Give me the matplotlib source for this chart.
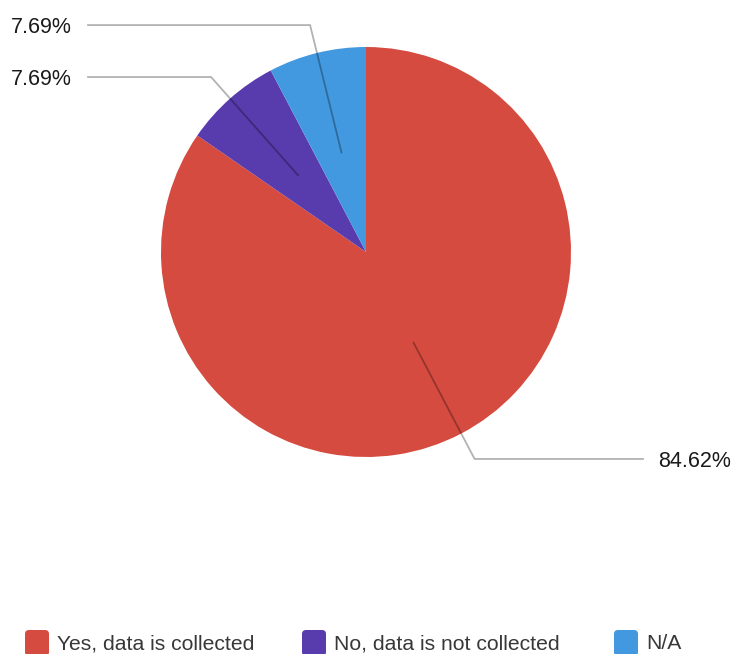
import numpy as np
import matplotlib
matplotlib.use("Agg")
import matplotlib.pyplot as plt
from matplotlib.patches import FancyBboxPatch

categories = ["Yes, data is collected", "No, data is not collected", "N/A"]
shares = [84.62, 7.69, 7.69]
colors = ["#D54B3F", "#583BAD", "#4399E0"]

W, H = 735, 654
fig = plt.figure(figsize=(W / 100, H / 100), dpi=100)
ax = fig.add_axes([0, 0, 1, 1])
ax.set_xlim(0, W)
ax.set_ylim(0, H)
ax.axis("off")

cx, cy, r = 366, H - 252, 205
wedges, _ = ax.pie(shares, colors=colors, startangle=90, counterclock=False,
                   center=(cx, cy), radius=r, wedgeprops=dict(linewidth=0))
ax.set_xlim(0, W)
ax.set_ylim(0, H)
ax.set_aspect("equal")

label_font = dict(family="Liberation Sans", size=15.5, color="#1a1a1a")
for w, val in zip(wedges, shares):
    mid = np.deg2rad((w.theta1 + w.theta2) / 2)
    x0, y0 = cx + 0.5 * r * np.cos(mid), cy + 0.5 * r * np.sin(mid)
    x1, y1 = cx + 1.14 * r * np.cos(mid), cy + 1.14 * r * np.sin(mid)
    right = np.cos(mid) > 0
    x2 = 643 if right else 88
    ax.plot([x0, x1, x2], [y0, y1, y1], color="black", alpha=0.3, lw=1.3,
            solid_joinstyle="miter")
    if right:
        ax.text(x2 + 15, y1 - 8, f"{val:.2f}%", ha="left", va="baseline", **label_font)
    else:
        ax.text(x2 - 16, y1 - 8, f"{val:.2f}%", ha="right", va="baseline", **label_font)

# legend row along the bottom edge
box_x = [25, 302, 614]
for bx, name, c in zip(box_x, categories, colors):
    ax.add_patch(FancyBboxPatch((bx + 4, H - 656 + 4), 16, 18,
                                boxstyle="round,pad=4,rounding_size=4",
                                fc=c, ec="none"))
    ax.text(bx + 32, H - 649, name, ha="left", va="baseline",
            family="Liberation Sans", size=15.2, color="#383838")

fig.savefig("out.png", dpi=100)
